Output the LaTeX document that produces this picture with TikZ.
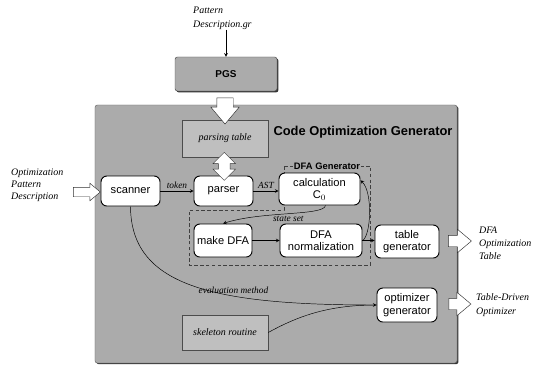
\documentclass[tikz,border=0pt]{standalone}
\usepackage{fontspec}
\setmainfont{Liberation Serif}
\setsansfont{Liberation Sans}
\usepackage{tikz}
\usetikzlibrary{shapes.geometric, shapes.arrows, arrows, positioning, calc, shadows}

\begin{document}
\begin{tikzpicture}[
    x=0.03cm, y=-0.03cm,
    >=stealth,
    font=\sffamily,
    % box styles
    block/.style={rectangle, rounded corners=5pt, draw=black, thick, fill=white, align=center, inner sep=1pt, font=\sffamily\fontsize{9.5}{10.5}\selectfont},
    store/.style={rectangle, draw=black!70, fill=black!25, minimum width=2.58cm, font=\itshape\fontsize{8.5}{10}\selectfont},
    tool/.style={rectangle, rounded corners=2pt, draw=black!70, fill=black!33, drop shadow={shadow xshift=1.2pt, shadow yshift=-1.2pt, fill=black!80, opacity=1}},
    panel/.style={rectangle, rounded corners=2pt, draw=black!60, fill=black!33, drop shadow={shadow xshift=1.2pt, shadow yshift=-1pt, fill=black!80, opacity=1}},
    hollow/.style={single arrow, draw=black!80, fill=white, single arrow tip angle=80},
    note/.style={align=left, anchor=west, inner sep=0pt, font=\rmfamily\itshape\fontsize{8.5}{12}\selectfont},
    tag/.style={font=\rmfamily\itshape\fontsize{8}{9}\selectfont, inner sep=1.5pt},
    arrow/.style={->, thin},
    line/.style={thin}
]

    % --- 1. OUTER PARTS ---
    \useasboundingbox (0,0) rectangle (543,366);

    \node[note] (patdesc) at (193,18) {Pattern\\Description.gr};
    \node[tool, minimum width=3.06cm, minimum height=1.02cm, font=\sffamily\bfseries\fontsize{8.5}{10}\selectfont] (pgs) at (226,74) {PGS};

    \node[panel, minimum width=10.86cm, minimum height=7.74cm] (cog) at (276,234) {};
    \node[font=\sffamily\bfseries\fontsize{11}{12}\selectfont] (cogtitle) at (363,132) {Code Optimization Generator};

    % --- 2. INNER BLOCKS ---
    \node[store, minimum height=1.11cm] (ptable) at (225,138.5) {parsing table};
    \node[store, minimum height=1.05cm] (skel) at (225,332.5) {skeleton routine};

    % DFA Generator frame
    \draw[densely dashed, black!75] (284,166) -- (370,166) -- (370,265) -- (189,265) -- (189,210) -- (284,210) -- cycle;
    \node[fill=black!33, inner sep=1pt, font=\sffamily\bfseries\fontsize{8}{9}\selectfont] (dfagen) at (327,166) {DFA Generator};

    \node[block, minimum width=1.77cm, minimum height=0.9cm] (scanner) at (130.5,191) {scanner};
    \node[block, minimum width=1.77cm, minimum height=0.9cm] (parser) at (223.5,191) {parser};
    \node[block, minimum width=2.43cm, minimum height=0.96cm] (calc) at (319.5,189) {calculation\\C$_0$};
    \node[block, minimum width=1.74cm, minimum height=0.99cm] (mkdfa) at (223,240.5) {make DFA};
    \node[block, minimum width=2.46cm, minimum height=0.99cm] (norm) at (321,240.5) {DFA\\normalization};
    \node[block, minimum width=1.92cm, minimum height=0.99cm] (tablegen) at (407,241.5) {table\\generator};
    \node[block, minimum width=1.8cm, minimum height=1.02cm] (optgen) at (407,305) {optimizer\\generator};

    % --- 3. HOLLOW ARROWS AND OUTSIDE TEXTS ---
    \node[hollow, shape border rotate=270, inner sep=0.24cm, minimum height=0.66cm, single arrow head extend=0.18cm] (pgsarrow) at (225,106) {};
    \node[double arrow, draw=black!80, fill=white, inner sep=0.17cm, shape border rotate=90, minimum height=0.84cm, double arrow head extend=0.16cm, double arrow tip angle=90] (tblarrow) at ($(ptable.south)!0.5!(parser.north)$) {};

    \node[note, font=\rmfamily\itshape\fontsize{8.5}{10.2}\selectfont] (optdesc) at (11,185) {Optimization\\Pattern\\Description};
    \node[hollow, inner sep=0.135cm, minimum height=0.81cm, single arrow head extend=0.12cm] (inarrow) at (84,192) {};

    \node[hollow, inner sep=0.165cm, minimum height=0.69cm, single arrow head extend=0.18cm] (dfaarrow) at (456.5,241) {};
    \node[note, font=\rmfamily\itshape\fontsize{8.5}{11}\selectfont] (dfatab) at (479,243) {DFA\\Optimization\\Table};

    \node[hollow, inner sep=0.165cm, minimum height=0.66cm, single arrow head extend=0.18cm] (optarrow) at (456.5,304) {};
    \node[note, font=\rmfamily\itshape\fontsize{8.5}{12.5}\selectfont] (tdopt) at (476,305) {Table-Driven\\Optimizer};

    % --- 4. CONNECTORS ---
    \draw[arrow] (patdesc.south -| pgs.north) -- (pgs.north);
    \draw[arrow] (scanner) -- node[tag, above] {token} (parser);
    \draw[arrow] (parser) -- node[tag, above] {AST} (calc.west |- parser.east);
    \draw[arrow] (calc.290) .. controls (324,216) and (262,211) .. node[tag, below, pos=0.5] {state set} (mkdfa.north);
    \draw[arrow] (mkdfa) -- (norm);
    \draw[arrow] (norm.east) -- (tablegen.west |- norm.east);
    \draw[arrow] (norm.east) .. controls (371,236) and (373,192) .. (calc.12);
    \draw[arrow] (scanner.south) .. controls (131,285) and (210,305) .. node[tag, above, pos=0.65] {evaluation method} (optgen.west);
    \draw[line] (skel.east) .. controls (300,315) and (330,305) .. (optgen.west);

\end{tikzpicture}
\end{document}
